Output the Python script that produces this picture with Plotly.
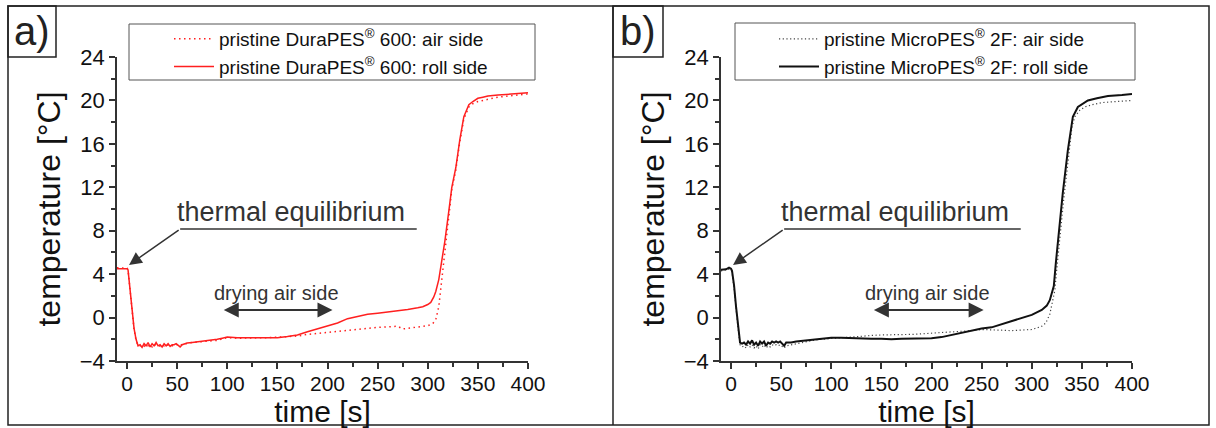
import plotly.graph_objects as go

W, H = 1216, 428

# ---------------- data ----------------
t_a_air = [-10, -2, 0, 1, 3, 5, 7, 9,
           11, 13, 15, 17, 19, 21, 23, 25, 27, 29, 31, 33, 35, 37, 39, 41, 43, 45, 47, 49, 51, 53, 55,
           60, 65, 70, 75, 80, 85, 90, 95, 100,
           110, 120, 130, 140, 150, 160, 170, 180, 190, 200, 210, 220, 230, 240, 250, 260, 270,
           275, 280, 290, 300, 305, 308, 311, 314, 317, 321, 324, 328, 332, 336, 341, 345, 350,
           360, 370, 380, 390, 400]
T_a_air = [4.6, 4.6, 4.55, 4.4, 2.4, 0.4, -1.1, -2.1,
           -2.55, -2.6, -2.5, -2.65, -2.45, -2.6, -2.5, -2.7, -2.45, -2.55, -2.5, -2.65, -2.5, -2.6,
           -2.45, -2.55, -2.5, -2.6, -2.55, -2.45, -2.55, -2.6, -2.45,
           -2.35, -2.3, -2.25, -2.2, -2.15, -2.15, -2.1, -1.95, -1.85,
           -1.9, -1.9, -1.85, -1.85, -1.8, -1.75, -1.7, -1.55, -1.45, -1.35, -1.25, -1.15, -1.05,
           -0.95, -0.9, -0.85, -0.8,
           -1.05, -1.0, -0.9, -0.75, -0.55, -0.2, 1.0, 3.5, 6.5, 9.5, 11.8, 13.6, 16.2, 18.3, 19.4,
           19.7, 19.9,
           20.1, 20.3, 20.4, 20.5, 20.6]

t_a_roll = [-10, -2, 0, 1, 3, 5, 7, 9,
            11, 13, 15, 17, 19, 21, 23, 25, 27, 29, 31, 33, 35, 37, 39, 41, 43, 45, 47, 49, 51, 53, 55,
            60, 65, 70, 75, 80, 85, 90, 95, 100,
            110, 120, 130, 140, 150, 160, 170, 180, 190, 200, 210, 220, 230, 240, 250, 260, 270, 280, 290,
            295, 300, 303, 306, 308, 311, 314, 317, 321, 324, 328, 332, 336, 341, 345, 350, 355, 360,
            370, 380, 390, 400]
T_a_roll = [4.5, 4.5, 4.5, 4.4, 2.5, 0.5, -1.0, -2.0,
            -2.6, -2.5, -2.75, -2.4, -2.6, -2.3, -2.7, -2.4, -2.6, -2.3, -2.6, -2.5, -2.7, -2.4, -2.6,
            -2.4, -2.65, -2.5, -2.5, -2.4, -2.6, -2.7, -2.5,
            -2.35, -2.3, -2.25, -2.2, -2.15, -2.1, -2.0, -1.9, -1.8,
            -1.85, -1.85, -1.9, -1.85, -1.85, -1.75, -1.6, -1.3, -1.05, -0.8, -0.5, -0.1, 0.1, 0.3,
            0.4, 0.5, 0.6, 0.75, 0.9,
            1.0, 1.2, 1.4, 1.9, 2.4, 3.5, 5.2, 7.0, 9.8, 12.0, 13.8, 16.4, 18.5, 19.6, 19.9, 20.2,
            20.3, 20.4,
            20.5, 20.55, 20.6, 20.7]

t_b_air = [-10, -5, -2, 0, 1, 3, 5, 7, 9,
           11, 13, 15, 17, 19, 21, 23, 25, 27, 29, 31, 33, 35, 37, 39, 41, 43, 45, 47, 49, 51, 53, 55,
           60, 65, 70, 75, 80, 85, 90, 95, 100,
           110, 120, 130, 140, 150, 160, 170, 180, 190, 200, 210, 220, 230, 240, 250, 260, 270, 280,
           290, 300, 310,
           314, 318, 321, 323, 325, 328, 332, 337, 340, 343, 348, 353, 360, 370, 385, 400]
T_b_air = [4.3, 4.35, 4.45, 4.35, 4.2, 2.7, 0.7, -1.0, -2.5,
           -2.7, -2.6, -2.8, -2.5, -2.7, -2.5, -2.8, -2.6, -2.9, -2.5, -2.7, -2.5, -2.8, -2.6, -2.7,
           -2.5, -2.6, -2.5, -2.6, -2.5, -2.7, -2.8, -2.6,
           -2.5, -2.4, -2.3, -2.2, -2.1, -2.05, -2.0, -1.95, -1.9,
           -1.85, -1.8, -1.7, -1.65, -1.6, -1.6, -1.55, -1.55, -1.5, -1.45, -1.4, -1.35, -1.3, -1.2,
           -1.1, -1.15, -1.2, -1.2, -1.15, -1.1, -0.8,
           -0.5, 0.3, 1.5, 2.5, 4.5, 7.5, 11.0, 15.0, 17.5, 18.5, 19.1, 19.4, 19.6, 19.8, 19.9, 20.0]

t_b_roll = [-10, -5, -2, 0, 1, 3, 5, 7, 9,
            11, 13, 15, 17, 19, 21, 23, 25, 27, 29, 31, 33, 35, 37, 39, 41, 43, 45, 47, 49, 51, 53, 55,
            60, 65, 70, 75, 80, 85, 90, 95, 100,
            110, 120, 130, 140, 150, 160, 170, 180, 190, 200, 210, 220, 230, 240, 250, 260, 270, 280,
            290, 300, 310,
            315, 318, 320, 322, 324, 327, 331, 336, 339, 341, 346, 351, 356, 365, 376, 390, 400]
T_b_roll = [4.4, 4.45, 4.6, 4.5, 4.3, 3.0, 1.0, -0.8, -2.3,
            -2.4, -2.3, -2.5, -2.2, -2.4, -2.1, -2.5, -2.3, -2.6, -2.2, -2.4, -2.2, -2.6, -2.3, -2.4,
            -2.2, -2.3, -2.2, -2.3, -2.2, -2.4, -2.6, -2.3,
            -2.3, -2.2, -2.15, -2.1, -2.05, -2.0, -2.0, -1.95, -1.85,
            -1.85, -1.9, -1.9, -1.95, -1.95, -2.0, -1.95, -1.95, -1.95, -1.9, -1.8, -1.6, -1.4, -1.2,
            -1.0, -0.9, -0.6, -0.3, 0.0, 0.25, 0.7,
            1.1, 1.6, 2.3, 2.9, 5.0, 8.1, 11.5, 15.4, 17.5, 18.5, 19.4, 19.7, 20.0, 20.2, 20.4, 20.5, 20.6]

x_ticks = [0, 50, 100, 150, 200, 250, 300, 350, 400]
y_ticks = [-4, 0, 4, 8, 12, 16, 20, 24]

names_a = ["pristine DuraPES<sup>®</sup> 600: air side", "pristine DuraPES<sup>®</sup> 600: roll side"]
names_b = ["pristine MicroPES<sup>®</sup> 2F: air side", "pristine MicroPES<sup>®</sup> 2F: roll side"]

# ---------------- styles ----------------
FONT = "Liberation Sans, Arial, sans-serif"
RED = "#ff1f1f"
BLACK = "#111111"
AXC = "#333333"


def px(x):
    return x / W


def py(y):
    return 1 - y / H


fig = go.Figure()
fig.add_trace(go.Scatter(x=t_a_air, y=T_a_air, mode="lines", name=names_a[0],
                         line=dict(color=RED, width=1.5, dash="1.5px,3.5px"), xaxis="x", yaxis="y",
                         legend="legend"))
fig.add_trace(go.Scatter(x=t_a_roll, y=T_a_roll, mode="lines", name=names_a[1],
                         line=dict(color=RED, width=1.5), xaxis="x", yaxis="y", legend="legend"))
fig.add_trace(go.Scatter(x=t_b_air, y=T_b_air, mode="lines", name=names_b[0],
                         line=dict(color="#444444", width=1.2, dash="1.2px,2.5px"), xaxis="x2", yaxis="y2",
                         legend="legend2"))
fig.add_trace(go.Scatter(x=t_b_roll, y=T_b_roll, mode="lines", name=names_b[1],
                         line=dict(color=BLACK, width=2), xaxis="x2", yaxis="y2", legend="legend2"))


def xaxis(domain, anchor):
    return dict(domain=domain, anchor=anchor, range=[-10, 400], tickvals=x_ticks, automargin=False,
                ticks="outside", ticklen=6, tickwidth=1.5, tickcolor=AXC, ticklabelstandoff=-3,
                showline=True, linecolor=AXC, linewidth=1.5, showgrid=False, zeroline=False,
                tickfont=dict(size=21, color=BLACK, family=FONT),
                minor=dict(dtick=25, tick0=0, ticks="outside", ticklen=4, tickwidth=1.5, tickcolor=AXC,
                           showgrid=False),
                title=dict(text="time [s]", font=dict(size=30, color=BLACK, family=FONT), standoff=3))


def yaxis(domain, anchor):
    return dict(domain=domain, anchor=anchor, range=[-4, 24], tickvals=y_ticks, automargin=False,
                ticks="outside", ticklen=6, tickwidth=1.5, tickcolor=AXC,
                showline=True, linecolor=AXC, linewidth=1.5, showgrid=False, zeroline=False,
                tickfont=dict(size=22, color=BLACK, family=FONT),
                minor=dict(dtick=2, tick0=0, ticks="outside", ticklen=4, tickwidth=1.5, tickcolor=AXC,
                           showgrid=False),
                title=dict(text="temperature [°C]", font=dict(size=32, color=BLACK, family=FONT), standoff=10))


ydom = [py(361), py(57)]
fig.update_layout(
    width=W, height=H, margin=dict(l=0, r=0, t=0, b=0, autoexpand=False),
    paper_bgcolor="white", plot_bgcolor="white",
    font=dict(family=FONT, color=BLACK),
    xaxis=xaxis([px(117), px(528)], "y"),
    yaxis=yaxis(ydom, "x"),
    xaxis2=xaxis([px(721), px(1132)], "y2"),
    yaxis2=yaxis(ydom, "x2"),
    legend=dict(x=px(169), y=py(20), xanchor="left", yanchor="top", bgcolor="rgba(0,0,0,0)",
                borderwidth=0, font=dict(size=19, color=BLACK, family=FONT), tracegroupgap=0,
                itemwidth=40),
    legend2=dict(x=px(774), y=py(20), xanchor="left", yanchor="top", bgcolor="rgba(0,0,0,0)",
                 borderwidth=0, font=dict(size=19, color=BLACK, family=FONT), tracegroupgap=0,
                 itemwidth=40),
    showlegend=True,
)

shapes = []
frame = dict(color="#222222", width=1.5)
shapes.append(dict(type="rect", xref="paper", yref="paper", x0=px(8), x1=px(1209), y0=py(425), y1=py(6), line=frame))
shapes.append(dict(type="line", xref="paper", yref="paper", x0=px(613), x1=px(613), y0=py(425), y1=py(6), line=frame))
shapes.append(dict(type="rect", xref="paper", yref="paper", x0=px(8), x1=px(56), y0=py(57), y1=py(6), line=frame))
shapes.append(dict(type="rect", xref="paper", yref="paper", x0=px(613), x1=px(663), y0=py(57), y1=py(6), line=frame))
shapes.append(dict(type="rect", xref="paper", yref="paper", x0=px(129), x1=px(535), y0=py(80), y1=py(24),
                   line=dict(color="#555555", width=1)))
shapes.append(dict(type="rect", xref="paper", yref="paper", x0=px(735), x1=px(1135), y0=py(80), y1=py(23),
                   line=dict(color="#555555", width=1)))
for xr, yr in (("x", "y"), ("x2", "y2")):
    shapes.append(dict(type="line", xref=xr, yref=yr, x0=53, x1=289, y0=8.16, y1=8.16,
                       line=dict(color="#666666", width=2)))
fig.update_layout(shapes=shapes)

ann = []
ann.append(dict(text="a)", xref="paper", yref="paper", x=px(32), y=py(31), showarrow=False,
                font=dict(size=40, color="#222222", family=FONT), xanchor="center", yanchor="middle"))
ann.append(dict(text="b)", xref="paper", yref="paper", x=px(638), y=py(31), showarrow=False,
                font=dict(size=40, color="#222222", family=FONT), xanchor="center", yanchor="middle"))
for xr, yr, dx0, dx1, dcx in (("x", "y", 95, 205, 149), ("x2", "y2", 141, 252, 196)):
    ann.append(dict(text="thermal equilibrium", xref=xr, yref=yr, x=48, y=9.75, showarrow=False,
                    xanchor="left", yanchor="middle", font=dict(size=27, color="#333333", family=FONT)))
    ann.append(dict(text="", xref=xr, yref=yr, x=2, y=4.85, ax=53, ay=8.16, axref=xr, ayref=yr,
                    showarrow=True, arrowhead=2, arrowsize=1.7, arrowwidth=1.5, arrowcolor="#333333"))
    ann.append(dict(text="drying air side", xref=xr, yref=yr, x=dcx, y=2.3, showarrow=False,
                    xanchor="center", yanchor="middle", font=dict(size=20, color="#333333", family=FONT)))
    ann.append(dict(text="", xref=xr, yref=yr, x=dx1, y=0.7, ax=dx0, ay=0.7, axref=xr, ayref=yr,
                    showarrow=True, arrowhead=2, arrowside="end+start", arrowsize=1.5, arrowwidth=2,
                    arrowcolor="#333333"))
fig.update_layout(annotations=ann)

fig.write_html("out.html")
